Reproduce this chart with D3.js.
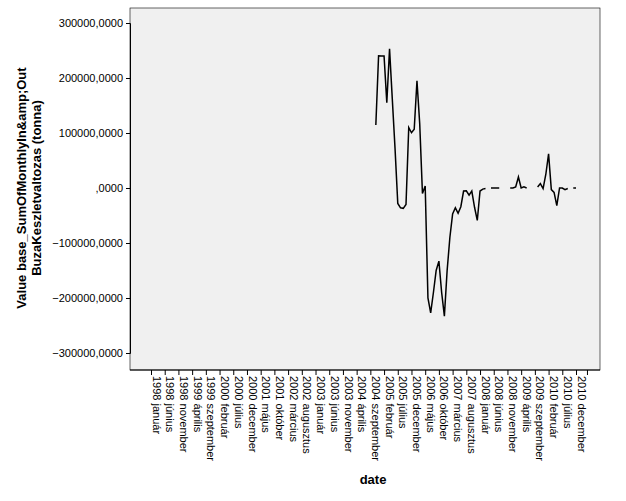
<!DOCTYPE html>
<html><head><meta charset="utf-8">
<script src="https://cdn.jsdelivr.net/npm/d3@7"></script>
<style>body{margin:0;background:#fff}text{font-family:Arial,"Liberation Sans",sans-serif}</style>
</head><body><div class="chart"></div>
<script>
var honapok = ["január","február","március","április","május","június","július","augusztus","szeptember","október","november","december"];
var yTicks = [300000,200000,100000,0,-100000,-200000,-300000];
var firstMonth = 82; // months since 1998 január
var values = [114500,240500,240000,240000,155000,253000,162000,72000,-28000,-36000,-37000,-30000,
  110000,100500,107000,195000,117000,-10000,3600,-200000,-227000,-190000,-150000,-133000,-190000,-233000,
  -150000,-90000,-47000,-36000,-46000,-34000,-5500,-5000,-13000,-5500,-35000,-59000,-5500,-2000,-1000,
  null,0,0,0,0,null,null,null,0,0,2000,20000,0,2000,0,null,0,null,2000,8000,-1000,25000,62000,-3000,-8000,
  -32000,0,0,-3000,-1000,null,0,0];
var tickMonths = d3.range(0, 156, 5);

var svg = d3.select(".chart").append("svg").attr("width", 626).attr("height", 501);
var L = 130, T = 8, R = 600, B = 370;

var x = d3.scaleLinear().domain([0, 155]).range([151, 576]);
var y = d3.scaleLinear().domain([-300000, 300000]).range([353, 23]);

svg.append("rect").attr("x", L).attr("y", T).attr("width", R - L).attr("height", B - T)
   .attr("fill", "#f0f0f0").attr("stroke", "#000").attr("stroke-width", 0.6);

var fmt = function(v){
  if (v === 0) return ",0000";
  return d3.format("d")(v) + ",0000";
};
var yAxis = svg.append("g").attr("transform", "translate(" + L + ",0)")
   .call(d3.axisLeft(y).tickValues(yTicks).tickFormat(fmt).tickSize(4));
yAxis.selectAll("text").attr("font-size", 11).attr("fill", "#000");

var xAxis = svg.append("g").attr("transform", "translate(0," + B + ")")
   .call(d3.axisBottom(x).tickValues(tickMonths.concat([159])).tickSize(5)
     .tickFormat(function(m){ return m > 155 ? "" : (1998 + Math.floor(m / 12)) + " " + honapok[m % 12]; }));
xAxis.select(".domain").attr("d", "M" + L + ",0H" + R);
xAxis.selectAll("text").attr("font-size", 11).attr("fill", "#000")
   .attr("transform", "rotate(90)").attr("text-anchor", "start")
   .attr("x", 6).attr("y", 0).attr("dy", "-0.1em");

var line = d3.line()
   .defined(function(d){ return d !== null; })
   .x(function(d, i){ return x(firstMonth + i); })
   .y(function(d){ return y(d); });
svg.append("path").datum(values).attr("d", line)
   .attr("fill", "none").attr("stroke", "#000").attr("stroke-width", 1.5);

svg.append("text").attr("transform", "translate(26,188) rotate(-90)").attr("text-anchor", "middle")
   .attr("font-size", 13).attr("font-weight", "bold").text("Value base_SumOfMonthlyIn&amp;Out");
svg.append("text").attr("transform", "translate(41,188) rotate(-90)").attr("text-anchor", "middle")
   .attr("font-size", 13).attr("font-weight", "bold").text("BuzaKeszletvaltozas (tonna)");
svg.append("text").attr("x", 373).attr("y", 484).attr("text-anchor", "middle")
   .attr("font-size", 13).attr("font-weight", "bold").text("date");
</script></body></html>
